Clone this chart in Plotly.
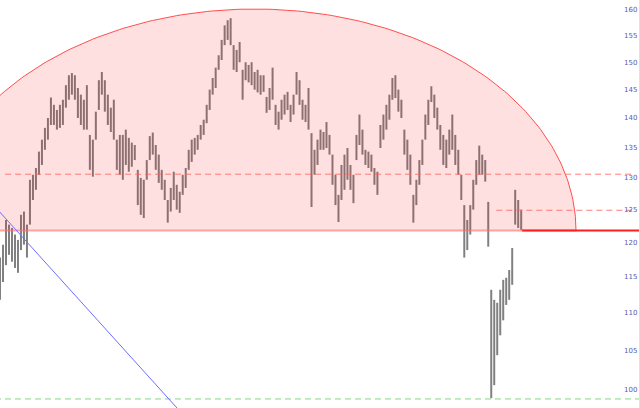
import numpy as np
import plotly.graph_objects as go

# ---- price bars (high / low), one bar per index ----
bar_high = [117.8, 119.7, 123.4, 122.7, 122.2, 121.2, 120.4, 124.2, 124.7, 122.7,
            129.7, 130.5, 131.6, 134.3, 136.3, 138.3, 140.0, 143.6, 142.3, 141.4,
            142.3, 143.2, 145.8, 147.6, 148.0, 147.6, 145.3, 144.1, 143.2, 145.8,
            137.1, 136.3, 141.1, 146.7, 148.2, 146.7, 144.1, 141.8, 143.2, 136.3,
            137.1, 137.1, 138.0, 136.6, 135.8, 135.4, 131.3, 130.0, 129.7, 132.9,
            136.9, 137.5, 135.4, 133.8, 131.3, 129.7, 126.5, 128.4, 131.0, 128.9,
            127.8, 130.5, 131.6, 134.6, 136.3, 136.6, 137.1, 138.8, 139.7, 142.3,
            145.0, 147.1, 149.0, 151.3, 154.2, 157.0, 158.0, 158.4, 153.2, 152.3,
            153.8, 148.6, 150.0, 149.5, 150.0, 148.2, 148.6, 147.6, 147.6, 143.7,
            145.3, 149.0, 142.3, 141.1, 143.2, 144.1, 144.6, 142.3, 144.1, 148.2,
            146.7, 143.2, 142.3, 145.3, 137.4, 134.6, 136.3, 138.0, 137.6, 139.3,
            137.1, 133.8, 130.5, 127.3, 132.1, 133.8, 134.9, 132.1, 130.5, 137.1,
            140.6, 138.0, 134.6, 134.3, 133.8, 131.6, 131.0, 138.8, 140.6, 142.3,
            144.1, 147.1, 147.6, 145.0, 143.2, 138.0, 136.3, 133.8, 127.3, 129.7,
            132.9, 136.3, 140.6, 143.2, 145.6, 144.1, 141.8, 138.8, 137.1, 136.3,
            138.0, 140.6, 137.1, 134.6, 130.5, 125.7, 123.4, 125.7, 129.7, 132.9,
            135.3, 133.8, 132.9, 126.2, 113.2, 111.8, 111.4, 113.2, 114.6, 114.9,
            116.0, 119.2, 128.1, 126.5, 125.0]
bar_low = [111.8, 114.3, 116.7, 118.2, 117.2, 116.3, 115.6, 118.9, 119.7, 117.8,
           122.7, 126.5, 128.1, 130.5, 132.1, 134.6, 136.3, 138.8, 138.8, 138.0,
           138.3, 138.8, 141.8, 143.2, 144.1, 143.2, 140.0, 138.8, 138.0, 138.0,
           131.3, 130.2, 136.3, 141.4, 144.1, 141.1, 138.8, 137.6, 136.3, 131.3,
           130.5, 129.7, 132.1, 131.0, 131.8, 132.9, 125.7, 124.2, 123.7, 129.7,
           132.9, 133.8, 131.3, 129.2, 128.1, 126.5, 123.0, 124.7, 126.5, 125.0,
           124.5, 127.3, 128.4, 131.3, 132.6, 133.8, 134.6, 136.3, 137.1, 139.1,
           141.4, 144.1, 145.3, 148.6, 150.4, 153.2, 154.2, 153.2, 148.6, 148.2,
           150.0, 143.2, 146.7, 146.3, 145.8, 145.0, 144.5, 144.1, 144.6, 140.9,
           141.4, 143.2, 138.8, 138.0, 139.7, 140.6, 141.4, 139.3, 140.6, 144.1,
           142.3, 139.7, 139.3, 138.0, 125.4, 130.5, 132.1, 134.6, 134.6, 134.9,
           133.8, 128.9, 125.7, 123.1, 126.5, 128.1, 129.7, 128.1, 126.0, 132.9,
           135.4, 133.8, 132.1, 131.6, 131.0, 128.9, 127.3, 134.9, 136.3, 138.0,
           139.7, 143.2, 143.5, 141.1, 140.0, 133.8, 131.3, 128.9, 123.0, 125.7,
           128.9, 132.1, 136.3, 138.8, 142.8, 140.0, 138.0, 134.6, 132.1, 131.6,
           133.8, 134.6, 132.1, 130.5, 126.5, 117.8, 118.9, 121.2, 125.0, 128.9,
           130.5, 130.5, 129.4, 119.4, 99.0, 100.6, 104.4, 107.0, 109.0, 111.1,
           111.8, 113.9, 122.7, 122.2, 121.9]

# ---- y-axis ticks ----
tick_values = [100, 105, 110, 115, 120, 125, 130, 135, 140, 145, 150, 155, 160]
tick_labels = [str(v) for v in tick_values]

# ---- drawn levels / annotations (price units, bar-index units) ----
dome_center = 85.0
dome_half_width = 107.3
dome_base = 121.8
dome_top = 160.2
upper_dash_level = 130.6
upper_dash_span = [1.7, 211.0]
lower_dash_level = 124.9
lower_dash_span = [165.7, 211.0]
support_level = 121.8
support_span = [174.3, 214.0]
green_level = 98.9
trend_x = [-10.0, 66.7]
trend_y = [129.8, 94.8]

x_range = [0, 213.33]
y_range = [97.8, 162.0]

fig = go.Figure()

# price bars as vertical high-low segments
xs, ys = [], []
for i, (h, l) in enumerate(zip(bar_high, bar_low)):
    xs += [i, i, None]
    ys += [l, h, None]
fig.add_trace(go.Scatter(x=xs, y=ys, mode="lines",
                         line=dict(color="rgb(128,128,128)", width=2.0),
                         hoverinfo="skip"))

# dome (half ellipse in screen space)
t = np.linspace(0, np.pi, 200)
lb, lt = np.log10(dome_base), np.log10(dome_top)
dx = dome_center + dome_half_width * np.cos(t)
dy = 10 ** (lb + (lt - lb) * np.sin(t))
fig.add_trace(go.Scatter(x=list(dx) + [dx[0]], y=list(dy) + [dy[0]], mode="lines",
                         fill="toself", fillcolor="rgba(255,0,0,0.12)",
                         line=dict(width=0), hoverinfo="skip"))
fig.add_trace(go.Scatter(x=dx, y=dy, mode="lines",
                         line=dict(color="rgba(255,60,60,0.9)", width=1),
                         hoverinfo="skip"))
fig.add_trace(go.Scatter(x=[dx[-1], dx[0]], y=[dome_base, dome_base], mode="lines",
                         line=dict(color="rgba(255,110,110,0.6)", width=2),
                         hoverinfo="skip"))

# dashed levels
fig.add_trace(go.Scatter(x=upper_dash_span, y=[upper_dash_level] * 2, mode="lines",
                         line=dict(color="rgba(255,100,100,0.85)", width=1, dash="6px,4px"),
                         hoverinfo="skip"))
fig.add_trace(go.Scatter(x=lower_dash_span, y=[lower_dash_level] * 2, mode="lines",
                         line=dict(color="rgba(255,100,100,0.85)", width=1, dash="6px,4px"),
                         hoverinfo="skip"))
# solid support
fig.add_trace(go.Scatter(x=support_span, y=[support_level] * 2, mode="lines",
                         line=dict(color="rgb(255,30,30)", width=2),
                         hoverinfo="skip"))
# green dashed bottom
fig.add_trace(go.Scatter(x=[-5, 220], y=[green_level] * 2, mode="lines",
                         line=dict(color="rgb(130,215,130)", width=1, dash="6px,4px"),
                         hoverinfo="skip"))
# blue trend line
fig.add_trace(go.Scatter(x=trend_x, y=trend_y, mode="lines",
                         line=dict(color="rgb(110,110,255)", width=1),
                         hoverinfo="skip"))

fig.update_layout(
    width=640, height=408,
    margin=dict(l=0, r=1, t=0, b=0),
    paper_bgcolor="white", plot_bgcolor="white",
    showlegend=False,
    xaxis=dict(visible=False, range=x_range),
    yaxis=dict(type="log", range=[np.log10(y_range[0]), np.log10(y_range[1])],
               side="right", tickvals=tick_values, ticktext=tick_labels,
               ticklabelposition="inside", ticks="",
               tickfont=dict(size=7, color="rgb(90,90,170)", family="DejaVu Sans"),
               showgrid=False, zeroline=False,
               showline=True, linecolor="rgb(225,225,225)", linewidth=1),
)

fig.write_html("out.html", config={"displayModeBar": False},
               post_script="document.body.style.margin='0';document.body.style.overflow='hidden';")
